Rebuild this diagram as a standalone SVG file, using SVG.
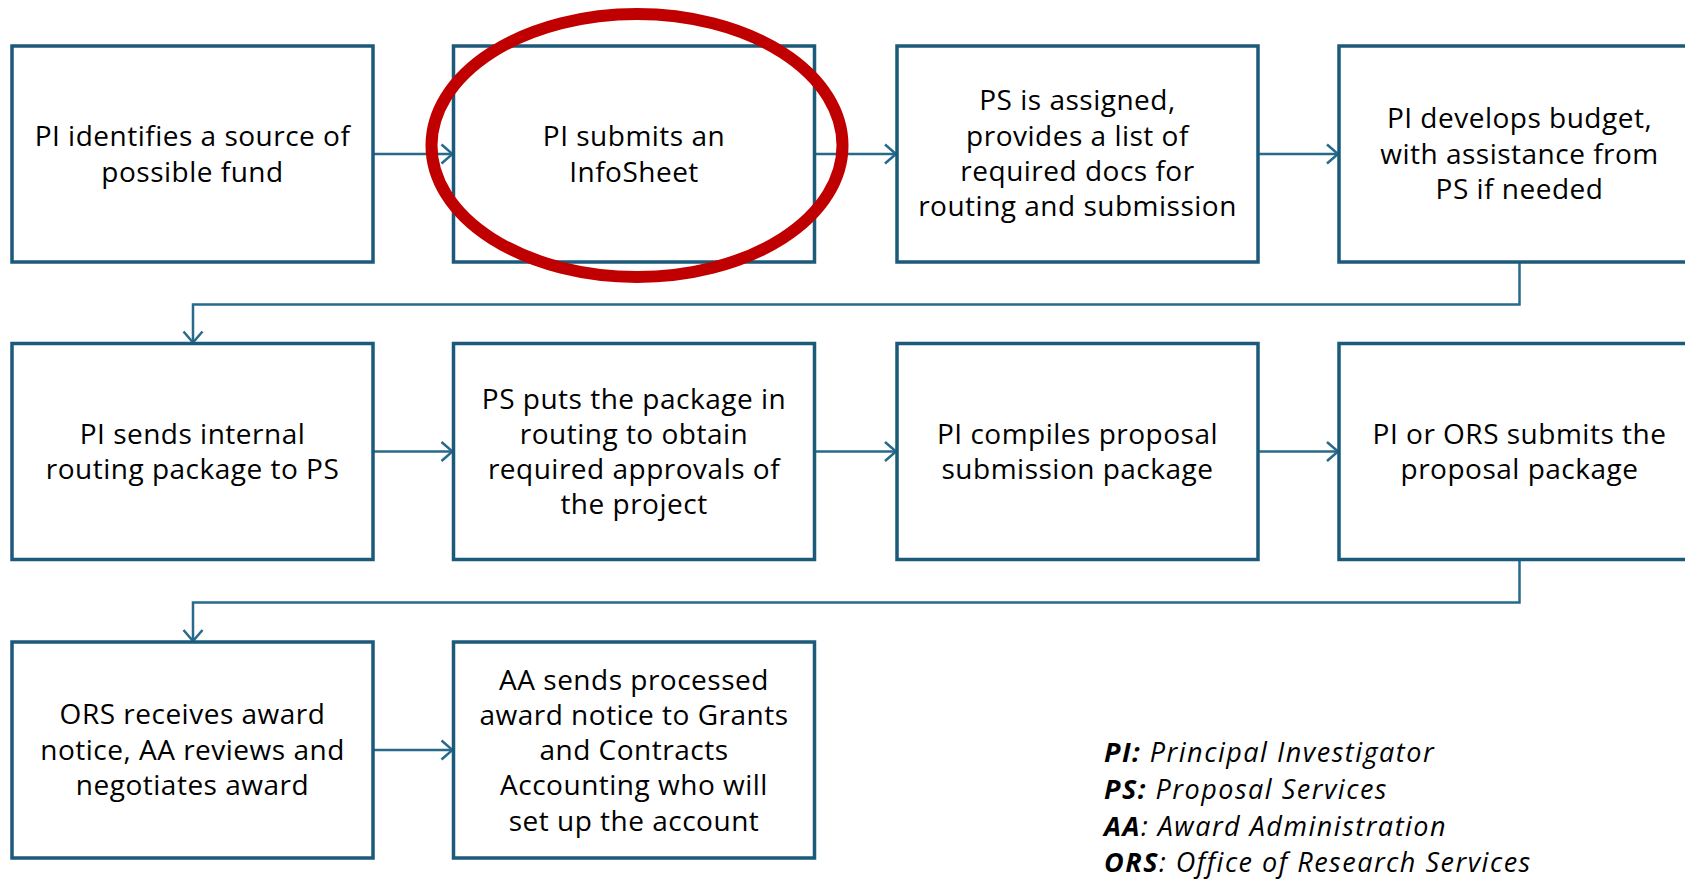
<svg xmlns="http://www.w3.org/2000/svg" width="1685" height="883" viewBox="0 0 1685 883">
<defs>
<style>
.box{fill:#fff;stroke:#1B5A7A;stroke-width:3.5}
.t{font-family:"Open Sans","Liberation Sans",sans-serif;font-size:28px;letter-spacing:0.5px;fill:#000;text-anchor:middle}
.conn{fill:none;stroke:#276A8C;stroke-width:2.5}
.leg{font-family:"Open Sans","Liberation Sans",sans-serif;font-size:27px;letter-spacing:1.5px;font-style:italic;fill:#000}
.b{font-weight:bold}
</style>
<marker id="ah" viewBox="0 0 14 22" refX="13" refY="11" markerWidth="14" markerHeight="22" markerUnits="userSpaceOnUse" orient="auto">
<path d="M1.5,1.5 L12.5,11 L1.5,20.5" fill="none" stroke="#276A8C" stroke-width="2.5"/>
</marker>
</defs>
<rect width="1685" height="883" fill="#fff"/>
<g id="connectors">
<path class="conn" d="M373,154 H453" marker-end="url(#ah)"/>
<path class="conn" d="M814.5,154 H896.5" marker-end="url(#ah)"/>
<path class="conn" d="M1258,154 H1338.5" marker-end="url(#ah)"/>
<path class="conn" d="M1519.5,262 V304.5 H193 V343" marker-end="url(#ah)"/>
<path class="conn" d="M373,451.5 H453" marker-end="url(#ah)"/>
<path class="conn" d="M814.5,451.5 H896.5" marker-end="url(#ah)"/>
<path class="conn" d="M1258,451.5 H1338.5" marker-end="url(#ah)"/>
<path class="conn" d="M1519.5,560 V602.5 H193 V641.5" marker-end="url(#ah)"/>
<path class="conn" d="M373,750 H453" marker-end="url(#ah)"/>
</g>
<g id="n1"><rect class="box" x="12" y="46" width="361" height="216"/>
<text class="t" x="192.5" y="146">PI identifies a source of</text><text class="t" x="192.5" y="181.5">possible fund</text></g>
<g id="n2"><rect class="box" x="453.5" y="46" width="361" height="216"/>
<text class="t" x="634" y="146">PI submits an</text><text class="t" x="634" y="181.5">InfoSheet</text></g>
<g id="n3"><rect class="box" x="897" y="46" width="361" height="216"/>
<text class="t" x="1077.5" y="110">PS is assigned,</text><text class="t" x="1077.5" y="145.5">provides a list of</text><text class="t" x="1077.5" y="180.5">required docs for</text><text class="t" x="1077.5" y="215.5">routing and submission</text></g>
<g id="n4"><rect class="box" x="1339" y="46" width="361" height="216"/>
<text class="t" x="1519.5" y="128">PI develops budget,</text><text class="t" x="1519.5" y="163.5">with assistance from</text><text class="t" x="1519.5" y="198.5">PS if needed</text></g>
<g id="n5"><rect class="box" x="12" y="343.5" width="361" height="216"/>
<text class="t" x="192.5" y="443.5">PI sends internal</text><text class="t" x="192.5" y="479">routing package to PS</text></g>
<g id="n6"><rect class="box" x="453.5" y="343.5" width="361" height="216"/>
<text class="t" x="634" y="408.5">PS puts the package in</text><text class="t" x="634" y="444">routing to obtain</text><text class="t" x="634" y="479">required approvals of</text><text class="t" x="634" y="514">the project</text></g>
<g id="n7"><rect class="box" x="897" y="343.5" width="361" height="216"/>
<text class="t" x="1077.5" y="443.5">PI compiles proposal</text><text class="t" x="1077.5" y="479">submission package</text></g>
<g id="n8"><rect class="box" x="1339" y="343.5" width="361" height="216"/>
<text class="t" x="1519.5" y="443.5">PI or ORS submits the</text><text class="t" x="1519.5" y="479">proposal package</text></g>
<g id="n9"><rect class="box" x="12" y="642" width="361" height="216"/>
<text class="t" x="192.5" y="724">ORS receives award</text><text class="t" x="192.5" y="759.5">notice, AA reviews and</text><text class="t" x="192.5" y="794.5">negotiates award</text></g>
<g id="n10"><rect class="box" x="453.5" y="642" width="361" height="216"/>
<text class="t" x="634" y="689.5">AA sends processed</text><text class="t" x="634" y="725">award notice to Grants</text><text class="t" x="634" y="760">and Contracts</text><text class="t" x="634" y="795">Accounting who will</text><text class="t" x="634" y="830.5">set up the account</text></g>
<ellipse id="highlight" cx="637" cy="145.5" rx="205.5" ry="131.5" fill="none" stroke="#C00000" stroke-width="12"/>
<g id="legend">
<text class="leg" x="1104" y="762"><tspan class="b">PI:</tspan> Principal Investigator</text>
<text class="leg" x="1104" y="799"><tspan class="b">PS:</tspan> Proposal Services</text>
<text class="leg" x="1104" y="836"><tspan class="b">AA</tspan>: Award Administration</text>
<text class="leg" x="1104" y="872"><tspan class="b">ORS</tspan>: Office of Research Services</text>
</g>
</svg>
